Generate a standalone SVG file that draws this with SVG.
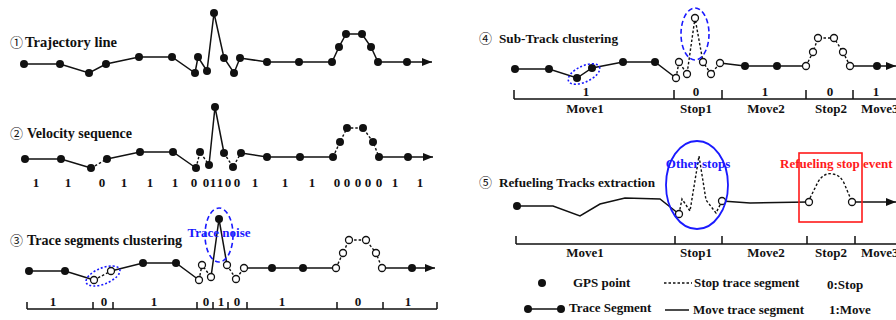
<svg xmlns="http://www.w3.org/2000/svg" width="896" height="320" viewBox="0 0 896 320">
<style>
text{font-family:"Liberation Serif","Times New Roman","Noto Sans CJK SC",serif;font-weight:bold;font-size:13px;fill:#111}
.t{font-size:14px}
.tr{font-size:13.5px}
.c{font-family:"Noto Sans CJK SC","DejaVu Sans",sans-serif;font-weight:normal;font-size:13px}
.lab{font-size:12.5px;text-anchor:middle}
.s{fill:none;stroke:#111;stroke-width:1.5}
.d{fill:none;stroke:#111;stroke-width:1.4;stroke-dasharray:2.5 2}
.f{fill:#111}
.o{fill:#fff;stroke:#111;stroke-width:1.3}
.ax{fill:none;stroke:#111;stroke-width:1.5}
.bd{fill:none;stroke:#1a1aff;stroke-width:1.6;stroke-dasharray:2 2}
.bl{fill:none;stroke:#1a1aff;stroke-width:1.6;stroke-dasharray:5 3}
</style>
<defs>
<marker id="ar" viewBox="0 0 10 8" refX="10" refY="4" markerWidth="10" markerHeight="8" markerUnits="userSpaceOnUse" orient="auto">
<path d="M0,0 L10,4 L0,8 Z" fill="#111"/>
</marker>
</defs>
<rect width="896" height="320" fill="#fff"/>

<!-- Panel 1 -->
<g id="panel1">
<text x="10" y="47" class="c">①</text>
<text x="25" y="47" class="t" textLength="92" lengthAdjust="spacingAndGlyphs">Trajectory line</text>
<g id="p1-lines">
<polyline class="s" points="24,64 60,64 89,73 106,64 139,57 172,57 195,73 198,57 207,71 214,13 224,58 234,73 240,58 267,62 299,62 332,62 339,47 346,34 362,34 371,47 378,62 407,62"/>
<line class="s" x1="407" y1="62" x2="432" y2="62" marker-end="url(#ar)"/>
</g>
<g id="p1-points" class="f">
<circle cx="24" cy="64" r="4"/><circle cx="60" cy="64" r="4"/><circle cx="89" cy="73" r="4"/><circle cx="106" cy="64" r="4"/><circle cx="139" cy="57" r="4"/><circle cx="172" cy="57" r="4"/><circle cx="195" cy="73" r="4"/><circle cx="198" cy="57" r="4"/><circle cx="207" cy="71" r="4"/><circle cx="214" cy="13" r="4"/><circle cx="224" cy="58" r="4"/><circle cx="234" cy="73" r="4"/><circle cx="240" cy="58" r="4"/><circle cx="267" cy="62" r="4"/><circle cx="299" cy="62" r="4"/><circle cx="332" cy="62" r="4"/><circle cx="339" cy="47" r="4"/><circle cx="346" cy="34" r="4"/><circle cx="362" cy="34" r="4"/><circle cx="371" cy="47" r="4"/><circle cx="378" cy="62" r="4"/><circle cx="407" cy="62" r="4"/>
</g>
</g>

<!-- Panel 2 -->
<g id="panel2">
<text x="10" y="138" class="c">②</text>
<text x="27" y="138" class="t" textLength="105" lengthAdjust="spacingAndGlyphs">Velocity sequence</text>
<g id="p2-lines">
<polyline class="s" points="25,159 61,159 91,168"/>
<polyline class="d" points="91,168 107,159"/>
<polyline class="s" points="107,159 140,152 173,152 196,168"/>
<polyline class="d" points="196,168 200,152 209,165"/>
<polyline class="s" points="209,165 215,107 224,153"/>
<polyline class="d" points="224,153 233,167 241,153"/>
<polyline class="s" points="241,153 267,157 300,157 333,157"/>
<polyline class="d" points="333,157 340,142 347,128 363,128 373,142 379,157"/>
<polyline class="s" points="379,157 408,157"/>
<line class="s" x1="408" y1="157" x2="433" y2="157" marker-end="url(#ar)"/>
</g>
<g id="p2-points" class="f">
<circle cx="25" cy="159" r="4"/><circle cx="61" cy="159" r="4"/><circle cx="91" cy="168" r="4"/><circle cx="107" cy="159" r="4"/><circle cx="140" cy="152" r="4"/><circle cx="173" cy="152" r="4"/><circle cx="196" cy="168" r="4"/><circle cx="200" cy="152" r="4"/><circle cx="209" cy="165" r="4"/><circle cx="215" cy="107" r="4"/><circle cx="224" cy="153" r="4"/><circle cx="233" cy="167" r="4"/><circle cx="241" cy="153" r="4"/><circle cx="267" cy="157" r="4"/><circle cx="300" cy="157" r="4"/><circle cx="333" cy="157" r="4"/><circle cx="340" cy="142" r="4"/><circle cx="347" cy="128" r="4"/><circle cx="363" cy="128" r="4"/><circle cx="373" cy="142" r="4"/><circle cx="379" cy="157" r="4"/><circle cx="408" cy="157" r="4"/>
</g>
<g id="p2-labels" class="lab">
<text x="36" y="187">1</text><text x="68" y="187">1</text><text x="102" y="187">0</text><text x="124" y="187">1</text><text x="150" y="187">1</text><text x="175" y="187">1</text><text x="194" y="187">0</text><text x="206" y="187">0</text><text x="213" y="187">1</text><text x="220" y="187">1</text><text x="228" y="187">0</text><text x="237" y="187">0</text><text x="255" y="187">1</text><text x="285" y="187">1</text><text x="312" y="187">1</text><text x="337" y="187">0</text><text x="347" y="187">0</text><text x="358" y="187">0</text><text x="368" y="187">0</text><text x="379" y="187">0</text><text x="395" y="187">1</text><text x="420" y="187">1</text>
</g>
</g>

<!-- Panel 3 -->
<g id="panel3">
<text x="10" y="245" class="c">③</text>
<text x="27" y="245" class="t" textLength="155" lengthAdjust="spacingAndGlyphs">Trace segments clustering</text>
<g id="p3-lines">
<polyline class="s" points="29,271 65,271 94,280"/>
<polyline class="d" points="94,280 111,271"/>
<polyline class="s" points="111,271 143,263 176,263 199,280"/>
<polyline class="d" points="199,280 202,265 211,277"/>
<polyline class="s" points="211,277 219,219 227,265"/>
<polyline class="d" points="227,265 236,279 244,268"/>
<polyline class="s" points="244,268 272,268 303,268 336,268"/>
<polyline class="d" points="336,268 343,253 349,240 366,240 376,253 382,268"/>
<polyline class="s" points="382,268 412,268"/>
<line class="s" x1="412" y1="268" x2="435" y2="268" marker-end="url(#ar)"/>
</g>
<g id="p3-points">
<circle class="f" cx="29" cy="271" r="4"/><circle class="f" cx="65" cy="271" r="4"/><circle class="o" cx="94" cy="280" r="3.5"/><circle class="o" cx="111" cy="271" r="3.5"/><circle class="f" cx="143" cy="263" r="4"/><circle class="f" cx="176" cy="263" r="4"/><circle class="o" cx="199" cy="280" r="3.5"/><circle class="o" cx="202" cy="265" r="3.5"/><circle class="o" cx="211" cy="277" r="3.5"/><circle class="f" cx="219" cy="219" r="4"/><circle class="o" cx="227" cy="265" r="3.5"/><circle class="o" cx="236" cy="279" r="3.5"/><circle class="o" cx="244" cy="268" r="3.5"/><circle class="f" cx="272" cy="268" r="4"/><circle class="f" cx="303" cy="268" r="4"/><circle class="o" cx="336" cy="268" r="3.5"/><circle class="o" cx="343" cy="253" r="3.5"/><circle class="o" cx="349" cy="240" r="3.5"/><circle class="o" cx="366" cy="240" r="3.5"/><circle class="o" cx="376" cy="253" r="3.5"/><circle class="o" cx="382" cy="268" r="3.5"/><circle class="f" cx="412" cy="268" r="4"/>
</g>
<ellipse class="bd" cx="103" cy="276" rx="18" ry="8" transform="rotate(-22 103 276)"/>
<ellipse class="bl" cx="219" cy="235" rx="14" ry="27"/>
<text x="219" y="237" text-anchor="middle" style="fill:#1a1aff">Trace noise</text>
<g id="p3-axis">
<path class="ax" d="M27,309 H437 M27,302 V309 M93,302 V309 M113,302 V309 M197,302 V309 M213,302 V309 M228,302 V309 M247,302 V309 M337,302 V309 M383,302 V309 M437,302 V309"/>
<g class="lab">
<text x="53" y="306">1</text><text x="104" y="306">0</text><text x="154" y="306">1</text><text x="206" y="306">0</text><text x="221" y="306">1</text><text x="237" y="306">0</text><text x="282" y="306">1</text><text x="358" y="306">0</text><text x="408" y="306">1</text>
</g>
</g>
</g>

<!-- Panel 4 -->
<g id="panel4">
<text x="479" y="43" class="c">④</text>
<text x="499" y="43" class="tr" textLength="119" lengthAdjust="spacingAndGlyphs">Sub-Track clustering</text>
<g id="p4-lines">
<polyline class="s" points="515,69 549,69 577,78 592,68 623,62 655,62 676,78"/>
<polyline class="d" points="676,78 679,62 687,74 695,18 703,62 711,74 720,63"/>
<polyline class="s" points="720,63 745,66 777,66 806,66"/>
<polyline class="d" points="806,66 813,52 818,38 834,38 843,52 850,66"/>
<polyline class="s" points="850,66 877,66"/>
<line class="s" x1="877" y1="66" x2="896" y2="66" marker-end="url(#ar)"/>
</g>
<g id="p4-points">
<circle class="f" cx="515" cy="69" r="4"/><circle class="f" cx="549" cy="69" r="4"/><circle class="f" cx="577" cy="78" r="4"/><circle class="f" cx="592" cy="68" r="4"/><circle class="f" cx="623" cy="62" r="4"/><circle class="f" cx="655" cy="62" r="4"/><circle class="o" cx="676" cy="78" r="3.5"/><circle class="o" cx="679" cy="62" r="3.5"/><circle class="o" cx="687" cy="74" r="3.5"/><circle class="o" cx="695" cy="18" r="3.5"/><circle class="o" cx="703" cy="62" r="3.5"/><circle class="o" cx="711" cy="74" r="3.5"/><circle class="o" cx="720" cy="63" r="3.5"/><circle class="f" cx="745" cy="66" r="4"/><circle class="f" cx="777" cy="66" r="4"/><circle class="o" cx="806" cy="66" r="3.5"/><circle class="o" cx="813" cy="52" r="3.5"/><circle class="o" cx="818" cy="38" r="3.5"/><circle class="o" cx="834" cy="38" r="3.5"/><circle class="o" cx="843" cy="52" r="3.5"/><circle class="o" cx="850" cy="66" r="3.5"/><circle class="f" cx="877" cy="66" r="4"/>
</g>
<ellipse class="bd" cx="584" cy="74" rx="17" ry="8" transform="rotate(-25 584 74)"/>
<ellipse class="bl" cx="695" cy="34" rx="14" ry="26"/>
<g id="p4-axis">
<path class="ax" d="M514,99 H896 M514,90 V99 M674,90 V99 M722,90 V99 M806,90 V99 M853,90 V99"/>
<g class="lab">
<text x="586" y="96">1</text><text x="696" y="96">0</text><text x="765" y="96">1</text><text x="830" y="96">0</text><text x="876" y="96">1</text>
<text x="585" y="113">Move1</text><text x="696" y="113">Stop1</text><text x="766" y="113">Move2</text><text x="831" y="113">Stop2</text><text x="861" y="113" text-anchor="start">Move3</text>
</g>
</g>
</g>

<!-- Panel 5 -->
<g id="panel5">
<text x="479" y="187" class="c">⑤</text>
<text x="499" y="187" class="tr" textLength="156" lengthAdjust="spacingAndGlyphs">Refueling Tracks extraction</text>
<g id="p5-lines">
<polyline class="s" points="517,206 553,206 580,216 600,204 625,198 660,199 679,214"/>
<polyline class="d" points="679,214 682,199 690,211 699,156 706,200 716,213 722,201"/>
<polyline class="s" points="722,201 750,203 808,202"/>
<path class="d" d="M808,202 L818,182 Q824,172 833,174 Q840,175 844,183 L852,202"/>
<line class="s" x1="852" y1="202" x2="896" y2="202" marker-end="url(#ar)"/>
</g>
<g id="p5-points">
<circle class="f" cx="517" cy="206" r="4"/>
<circle class="o" cx="679" cy="214" r="3.5"/><circle class="o" cx="722" cy="201" r="3.5"/>
<circle class="o" cx="809" cy="202" r="3.5"/><circle class="o" cx="852" cy="202" r="3.5"/>
</g>
<ellipse cx="697" cy="185" rx="31" ry="44" fill="none" stroke="#1a1aff" stroke-width="1.8"/>
<text x="698" y="168" text-anchor="middle" style="fill:#1a1aff">Other stops</text>
<rect x="799" y="153" width="63" height="69" fill="none" stroke="#ff1a1a" stroke-width="1.6"/>
<text x="780" y="168" style="fill:#ff1a1a">Refueling stop event</text>
<g id="p5-axis">
<path class="ax" d="M516,244 H896 M516,236 V244 M675,236 V244 M722,236 V244 M807,236 V244 M855,236 V244"/>
<g class="lab">
<text x="585" y="257">Move1</text><text x="696" y="257">Stop1</text><text x="766" y="257">Move2</text><text x="831" y="257">Stop2</text><text x="861" y="257" text-anchor="start">Move3</text>
</g>
</g>
</g>

<!-- Legend -->
<g id="legend">
<circle class="f" cx="542" cy="283" r="4"/>
<text x="573" y="287">GPS point</text>
<line class="d" x1="664" y1="283" x2="692" y2="283"/>
<text x="694" y="287">Stop trace segment</text>
<text x="827" y="289">0:Stop</text>
<line class="s" x1="528" y1="309" x2="561" y2="309"/>
<circle class="f" cx="528" cy="309" r="4"/><circle class="f" cx="561" cy="309" r="4"/>
<text x="569" y="312">Trace Segment</text>
<line class="s" x1="665" y1="310" x2="689" y2="310"/>
<text x="693" y="314">Move trace segment</text>
<text x="829" y="314">1:Move</text>
</g>
</svg>
